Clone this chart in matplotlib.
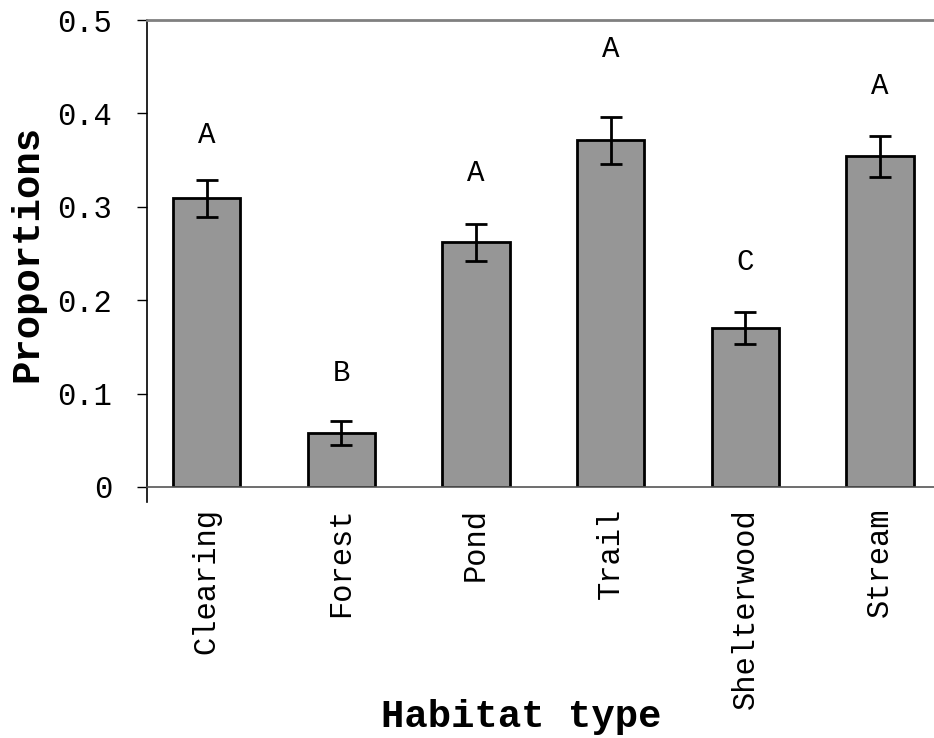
import matplotlib
matplotlib.use("Agg")
import matplotlib.pyplot as plt

habitats = ["Clearing", "Forest", "Pond", "Trail", "Shelterwood", "Stream"]
proportions = [0.309, 0.058, 0.262, 0.371, 0.170, 0.354]
errors = [0.020, 0.013, 0.020, 0.025, 0.017, 0.022]
letters = ["A", "B", "A", "A", "C", "A"]
letter_y = [0.377, 0.122, 0.336, 0.469, 0.241, 0.429]
yticks = [0, 0.1, 0.2, 0.3, 0.4, 0.5]
ytick_labels = ["0", "0.1", "0.2", "0.3", "0.4", "0.5"]

plt.rcParams['font.family'] = ['Liberation Mono', 'DejaVu Sans Mono']

fig = plt.figure(figsize=(9.34, 7.38), dpi=100)
ax = fig.add_axes([147/934, 1 - 487/738, 1 - 147/934, (487 - 20)/738])

x = list(range(len(habitats)))
ax.bar(x, proportions, width=0.5, color='#969696', edgecolor='black', linewidth=2,
       zorder=2)
ax.errorbar(x, proportions, yerr=errors, fmt='none', ecolor='black', elinewidth=2,
            capsize=8, capthick=2, zorder=3)

for xi, lab, ly in zip(x, letters, letter_y):
    ax.text(xi, ly, lab, ha='center', va='center', fontsize=21)

ax.set_xlim(-0.442, 5.40)
ax.set_ylim(0, 0.5)
ax.set_yticks(yticks)
ax.set_yticklabels(ytick_labels, fontsize=22)
ax.set_xticks(x)
ax.set_xticklabels(habitats, rotation=90, fontsize=22)
ax.tick_params(axis='x', length=0, pad=15)
ax.tick_params(axis='y', direction='out', length=7, width=1, pad=18)

ax.spines['right'].set_visible(False)
ax.spines['top'].set_color('#808080')
ax.spines['top'].set_linewidth(2)
ax.spines['bottom'].set_color('#555555')
ax.spines['bottom'].set_linewidth(1.2)
ax.spines['left'].set_color('black')
ax.spines['left'].set_linewidth(1.2)
# left axis line continues a bit below zero
ax.plot([0, 0], [0, -15/467], transform=ax.transAxes, color='black', lw=1.2,
        clip_on=False)

ax.set_ylabel("Proportions", fontsize=28, fontweight='bold')
ax.set_xlabel("Habitat type", fontsize=28, fontweight='bold')
ax.yaxis.set_label_coords(-102/787, 0.5)
ax.xaxis.set_label_coords((521 - 147)/787, -(699 - 487)/467)

fig.savefig("out.png", dpi=100)
